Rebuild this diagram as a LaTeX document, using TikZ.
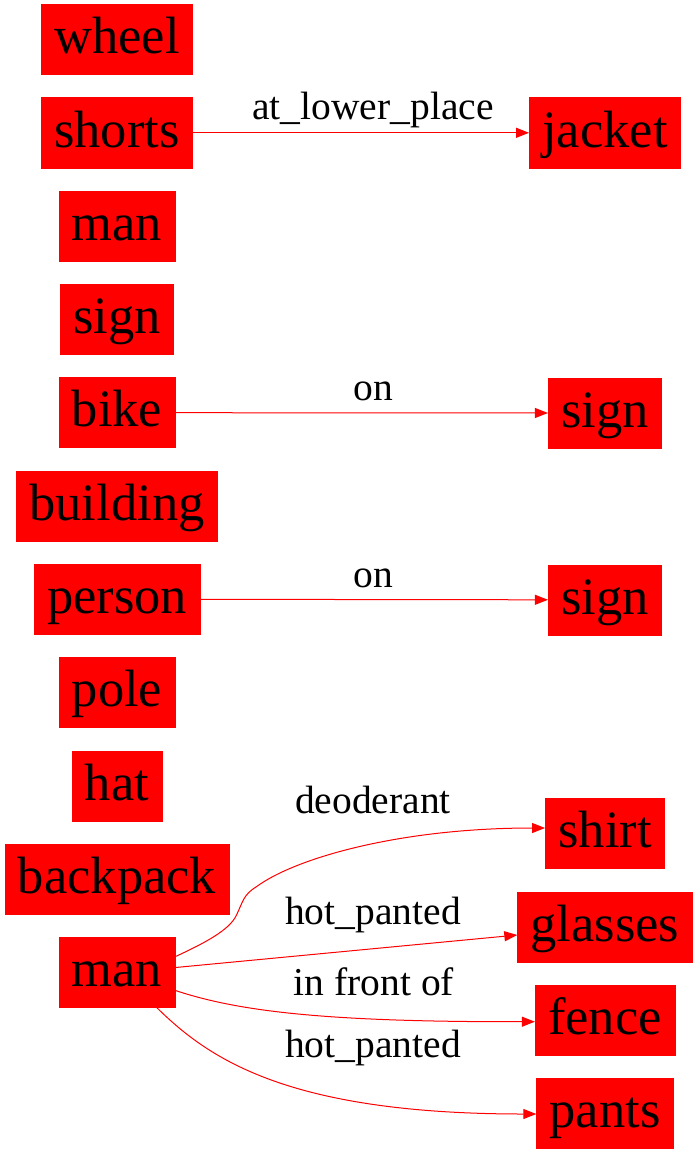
\documentclass[tikz,border=0pt]{standalone}
\usepackage{fontspec}
\setmainfont{Liberation Serif}
\usetikzlibrary{arrows.meta}
\definecolor{gvred}{RGB}{255,0,0}
\tikzset{
  obj/.style={rectangle, fill=gvred, draw=gvred, line width=0.6pt, inner xsep=13pt, inner ysep=0pt,
    minimum height=70pt, text height=40pt, text depth=11.6pt,
    font=\fontsize{52.5}{60}\selectfont, text=black},
  rel/.style={draw=gvred, line width=1pt, -{Triangle[length=13pt,width=10pt]}},
  lbl/.style={anchor=base, inner sep=0pt, font=\fontsize{39.5}{45}\selectfont, text=black}
}
\begin{document}
\begin{tikzpicture}[x=1pt, y=-1pt]
\useasboundingbox (0,0) rectangle (697,1153);
% left column
\node[obj] (wheel)    at (117,39.5)  {wheel};
\node[obj] (shorts)   at (117,132.8) {shorts};
\node[obj] (man1)     at (117,226.1) {man};
\node[obj] (sign1)    at (117,319.4) {sign};
\node[obj] (bike)     at (117,412.7) {bike};
\node[obj] (building) at (117,506)   {building};
\node[obj] (person)   at (117,599.3) {person};
\node[obj] (pole)     at (117,692.6) {pole};
\node[obj] (hat)      at (117,785.9) {hat};
\node[obj] (backpack) at (117,879.2) {backpack};
\node[obj] (man2)     at (117,972.5) {man};
% right column
\node[obj] (jacket)   at (605,132.8) {jacket};
\node[obj] (sign2)    at (605,413)   {sign};
\node[obj] (sign3)    at (605,599.8) {sign};
\node[obj] (shirt)    at (605,833)   {shirt};
\node[obj] (glasses)  at (605,927)   {glasses};
\node[obj] (fence)    at (605,1020)  {fence};
\node[obj] (pants)    at (605,1113)  {pants};
% straight edges
\draw[rel] (shorts.east) -- (jacket.west);
\node[lbl] (l1) at (373,120) {at\_lower\_place};
\draw[rel] (bike.east) -- (sign2.west);
\node[lbl] (l2) at (373,400) {on};
\draw[rel] (person.east) -- (sign3.west);
\node[lbl] (l3) at (373,587) {on};
% curved edges from man
\draw[rel] ([yshift=16pt]man2.east) .. controls (205,943) and (229,930) .. (236,916)
  .. controls (243,902) and (243,895) .. (256,887)
  .. controls (295,858) and (400,828) .. ([yshift=5pt]shirt.west);
\node[lbl] (l4) at (373,813) {deoderant};
\draw[rel] ([yshift=5pt]man2.east) -- ([yshift=-8pt]glasses.west);
\node[lbl] (l5) at (373,924) {hot\_panted};
\draw[rel] ([yshift=-18pt]man2.east) .. controls (240,1012) and (330,1022) .. ([yshift=-1.7pt]fence.west);
\node[lbl] (l6) at (374,995) {in front of};
\draw[rel] ([xshift=40pt]man2.south) .. controls (210,1060) and (290,1114) .. ([yshift=-1pt]pants.west);
\node[lbl] (l7) at (373,1057) {hot\_panted};
\end{tikzpicture}
\end{document}
